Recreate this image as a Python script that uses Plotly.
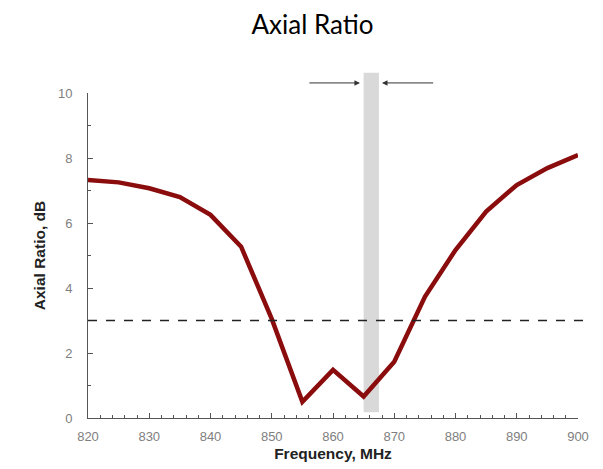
import plotly.graph_objects as go

freq_mhz = [820, 825, 830, 835, 840, 845, 850, 855, 860, 865, 870, 875, 880, 885, 890, 895, 900]
axial_ratio_db = [7.32, 7.25, 7.07, 6.8, 6.25, 5.27, 3.05, 0.5, 1.48, 0.66, 1.73, 3.73, 5.17, 6.35, 7.17, 7.69, 8.09]
threshold_db = 3
band_mhz = [865.0, 867.5]
arrow_left = [855.9, 864.4]
arrow_right = [876.6, 868.0]
x_ticks = [820, 830, 840, 850, 860, 870, 880, 890, 900]
y_ticks = [0, 2, 4, 6, 8, 10]

fig = go.Figure()

fig.add_trace(go.Scatter(
    x=freq_mhz, y=axial_ratio_db, mode="lines",
    line=dict(color="#8a0c0c", width=4.5),
    showlegend=False, hoverinfo="skip",
))

# grey band
fig.add_shape(type="rect", xref="x", yref="paper",
              x0=band_mhz[0], x1=band_mhz[1], y0=0.018, y1=1.062,
              fillcolor="#d9d9d9", line=dict(width=0), layer="below")

# 3 dB dashed line
fig.add_shape(type="line", xref="paper", yref="y",
              x0=0, x1=1.02, y0=threshold_db, y1=threshold_db,
              line=dict(color="#222222", width=1.3, dash="dash"))

for a in (arrow_left, arrow_right):
    fig.add_annotation(x=a[1], y=1.031, xref="x", yref="paper",
                       ax=a[0], ay=0, axref="x", ayref="pixel",
                       showarrow=True, arrowhead=2, arrowsize=1.1,
                       arrowwidth=1, arrowcolor="#333333", text="")

tickfont = dict(family="Liberation Sans", size=13, color="#808080")
titlefont = dict(family="Liberation Sans", size=15.5, color="#222222")

fig.update_layout(
    width=603, height=469,
    margin=dict(l=80, r=33, t=85, b=59, autoexpand=False),
    paper_bgcolor="white", plot_bgcolor="white",
    title=dict(text="Axial Ratio", x=0.505, xref="container", xanchor="center",
               y=0.964, yref="container", yanchor="middle", automargin=False,
               font=dict(family="Lato", size=26, color="black")),
    xaxis=dict(range=[820, 900], tickvals=x_ticks, ticktext=[str(v) for v in x_ticks],
               showline=True, linecolor="#555555", linewidth=1, showgrid=False,
               zeroline=False, ticks="inside", ticklen=5, tickcolor="#555555",
               minor=dict(dtick=2, ticks="inside", ticklen=3, tickcolor="#555555"),
               tickfont=tickfont, ticklabelstandoff=6, automargin=False,
               title=dict(text="<b>Frequency, MHz</b>", standoff=5, font=titlefont)),
    yaxis=dict(range=[0, 10], tickvals=y_ticks, ticktext=[str(v) for v in y_ticks],
               showline=True, linecolor="#555555", linewidth=1, showgrid=False,
               zeroline=False, ticks="inside", ticklen=5, tickcolor="#555555",
               minor=dict(dtick=1, ticks="inside", ticklen=3, tickcolor="#555555"),
               tickfont=tickfont, ticklabelstandoff=12, automargin=False,
               title=dict(text="<b>Axial Ratio, dB</b>", standoff=8, font=titlefont)),
)

fig.write_html("out.html")
